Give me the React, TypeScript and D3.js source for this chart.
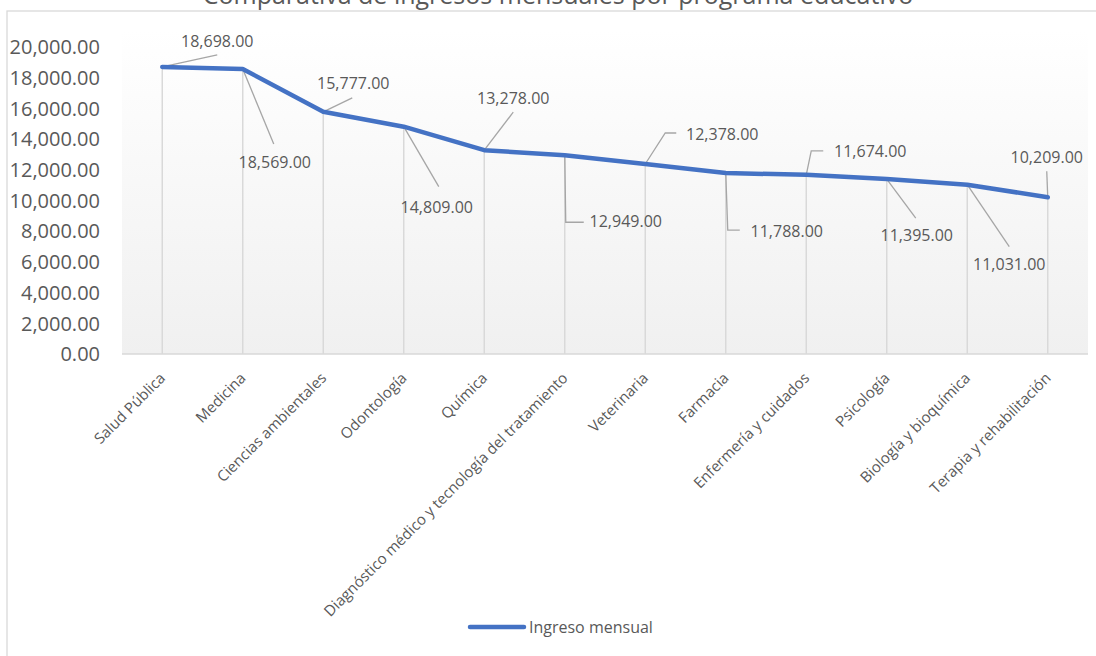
import React from "react";
import * as d3 from "d3";

const categories: string[] = [
  "Salud Pública",
  "Medicina",
  "Ciencias ambientales",
  "Odontología",
  "Química",
  "Diagnóstico médico y tecnología del tratamiento",
  "Veterinaria",
  "Farmacia",
  "Enfermería y cuidados",
  "Psicología",
  "Biología y bioquímica",
  "Terapia y rehabilitación",
];

const ingresoMensual: number[] = [
  18698, 18569, 15777, 14809, 13278, 12949, 12378, 11788, 11674, 11395, 11031, 10209,
];

const seriesName = "Ingreso mensual";
const title = "Comparativa de ingresos mensuales por programa educativo";
const yDomain: [number, number] = [0, 20000];
const yTickStep = 2000;

// Label layout (offsets from each point, in pixels): text centre/baseline and leader path
const labelLayout: { tx: number; ty: number; leader: [number, number][] }[] = [
  { tx: 55, ty: -20, leader: [[55, -12]] },
  { tx: 32, ty: 99, leader: [[31, 75]] },
  { tx: 30, ty: -23, leader: [[29, -14]] },
  { tx: 33, ty: 86, leader: [[35, 60]] },
  { tx: 29, ty: -46, leader: [[29, -38]] },
  { tx: 61, ty: 72, leader: [[1, 67], [19, 67]] },
  { tx: 77, ty: -24, leader: [[20, -31], [31, -31]] },
  { tx: 61, ty: 64, leader: [[2, 57], [14, 57]] },
  { tx: 64, ty: -18, leader: [[5, -24], [17, -24]] },
  { tx: 30, ty: 62, leader: [[29, 39]] },
  { tx: 42, ty: 85, leader: [[42, 62]] },
  { tx: -1, ty: -34, leader: [[-1, -26]] },
];

const W = 1096;
const H = 656;
const plot = { left: 122, right: 1088, top: 47, bottom: 354 };
const FONT = "'Open Sans', 'Noto Sans', sans-serif";
const TEXT = "#595959";
const LINE = "#4472C4";

export default function App() {
  const x = d3
    .scalePoint<string>()
    .domain(categories)
    .range([plot.left, plot.right])
    .padding(0.5);
  const y = d3.scaleLinear().domain(yDomain).range([plot.bottom, plot.top]);
  const ticks = d3.range(yDomain[0], yDomain[1] + 1, yTickStep);
  const fmt = d3.format(",.2f");
  const pts = categories.map((c, i) => [x(c) as number, y(ingresoMensual[i])] as [number, number]);
  const linePath = d3.line()(pts) || "";

  return (
    <svg
      width={W}
      height={H}
      style={{ position: "absolute", left: 0, top: 0, background: "#fff" }}
      fontFamily={FONT}
    >
      <defs>
        <linearGradient id="plotGrad" x1="0" y1="0" x2="0" y2="1">
          <stop offset="0" stopColor="#ffffff" />
          <stop offset="1" stopColor="#f0f0f0" />
        </linearGradient>
      </defs>
      <rect x={7} y={11} width={W} height={H} fill="#fff" stroke="#d9d9d9" strokeWidth={1.3} />
      <text x={558} y={4} textAnchor="middle" fontSize={25} fill={TEXT}>
        {title}
      </text>
      <rect
        x={plot.left}
        y={plot.top - 17}
        width={plot.right - plot.left}
        height={plot.bottom - plot.top + 17}
        fill="url(#plotGrad)"
      />
      {/* drop lines */}
      {pts.map(([px, py], i) => (
        <line key={"d" + i} x1={px} x2={px} y1={py} y2={plot.bottom} stroke="#d9d9d9" strokeWidth={1.5} />
      ))}
      {/* category axis */}
      <line x1={plot.left} x2={plot.right} y1={plot.bottom} y2={plot.bottom} stroke="#d9d9d9" strokeWidth={1.5} />
      {ticks.map((t) => (
        <text key={"t" + t} x={100} y={y(t)} dy="0.36em" textAnchor="end" fontSize={20} fill={TEXT}>
          {fmt(t)}
        </text>
      ))}
      {categories.map((c) => (
        <text
          key={"c" + c}
          transform={`translate(${(x(c) as number) + 4},${plot.bottom + 25}) rotate(-45)`}
          textAnchor="end"
          fontSize={15}
          fill={TEXT}
        >
          {c}
        </text>
      ))}
      {/* leader lines */}
      {pts.map(([px, py], i) => {
        const L = labelLayout[i];
        const p = [[px, py], ...L.leader.map(([a, b]) => [px + a, py + b])] as [number, number][];
        return (
          <path key={"l" + i} d={d3.line()(p) || ""} fill="none" stroke="#a6a6a6" strokeWidth={1.3} />
        );
      })}
      <path d={linePath} fill="none" stroke={LINE} strokeWidth={4.5} strokeLinejoin="round" strokeLinecap="round" />
      {pts.map(([px, py], i) => (
        <text
          key={"v" + i}
          x={px + labelLayout[i].tx}
          y={py + labelLayout[i].ty}
          textAnchor="middle"
          fontSize={16}
          fill={TEXT}
        >
          {fmt(ingresoMensual[i])}
        </text>
      ))}
      {/* legend */}
      <line x1={470} x2={524} y1={627} y2={627} stroke={LINE} strokeWidth={4.5} strokeLinecap="round" />
      <text x={529} y={633} fontSize={16} fill={TEXT}>
        {seriesName}
      </text>
    </svg>
  );
}
